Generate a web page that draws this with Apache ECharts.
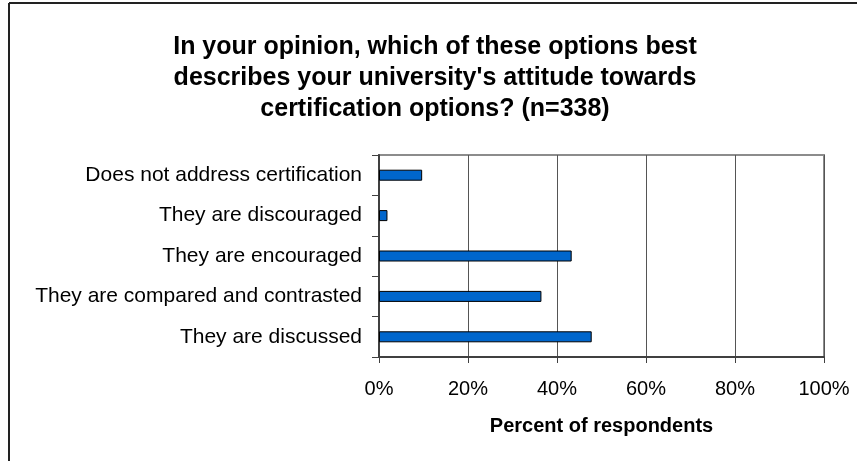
<!DOCTYPE html>
<html>
<head>
<meta charset="utf-8">
<script src="https://cdn.jsdelivr.net/npm/echarts@6/dist/echarts.min.js"></script>
<style>
  html, body { margin: 0; padding: 0; background: #fff; }
  #chart { width: 857px; height: 461px; }
</style>
</head>
<body>
<div id="chart"></div>
<script>
// categories bottom to top, as the y axis draws them
const categories = [
  'They are discussed',
  'They are compared and contrasted',
  'They are encouraged',
  'They are discouraged',
  'Does not address certification'
];
const percents = [47.8, 36.5, 43.3, 1.9, 9.7];
const xTicks = [0, 20, 40, 60, 80, 100];

const titleText = "In your opinion, which of these options best\n" +
  "describes your university's attitude towards\n" +
  "certification options? (n=338)";

const chart = echarts.init(document.getElementById('chart'));

chart.setOption({
  animation: false,
  textStyle: { fontFamily: 'Liberation Sans, Arial, sans-serif' },
  title: {
    text: titleText,
    left: 430,
    textAlign: 'center',
    top: 27,
    textStyle: {
      fontSize: 25,
      fontWeight: 'bold',
      color: '#000',
      lineHeight: 31,
      fontFamily: 'Liberation Sans, Arial, sans-serif'
    }
  },
  graphic: [
    { type: 'line', shape: { x1: 9, y1: 3, x2: 9, y2: 461 }, style: { stroke: '#222', lineWidth: 2 } },
    { type: 'line', shape: { x1: 9, y1: 3, x2: 857, y2: 3 }, style: { stroke: '#222', lineWidth: 2 } }
  ],
  grid: {
    left: 379,
    right: 33,
    top: 155,
    bottom: 104,
    show: true,
    borderColor: '#8c8c8c',
    borderWidth: 2,
    outerBoundsMode: 'none'
  },
  xAxis: {
    type: 'value',
    min: xTicks[0],
    max: xTicks[xTicks.length - 1],
    interval: 20,
    name: 'Percent of respondents',
    nameLocation: 'middle',
    nameGap: 59,
    nameTextStyle: { fontSize: 20, fontWeight: 'bold', color: '#000' },
    axisLine: { show: true, lineStyle: { color: '#404040', width: 2 } },
    axisTick: { show: true, length: 6, lineStyle: { color: '#404040' } },
    axisLabel: {
      fontSize: 20,
      color: '#000',
      margin: 22,
      formatter: v => v + '%'
    },
    splitLine: { show: true, lineStyle: { color: '#555', width: 1 } }
  },
  yAxis: {
    type: 'category',
    data: categories,
    axisLine: { show: true, lineStyle: { color: '#404040', width: 2 } },
    axisTick: { show: true, length: 7, lineStyle: { color: '#404040' } },
    axisLabel: { fontSize: 21, color: '#000', margin: 17 },
    splitLine: { show: false }
  },
  series: [{
    type: 'bar',
    data: percents,
    barWidth: 11,
    itemStyle: { color: '#0066cc', borderColor: '#000', borderWidth: 1 }
  }]
});
</script>
</body>
</html>
